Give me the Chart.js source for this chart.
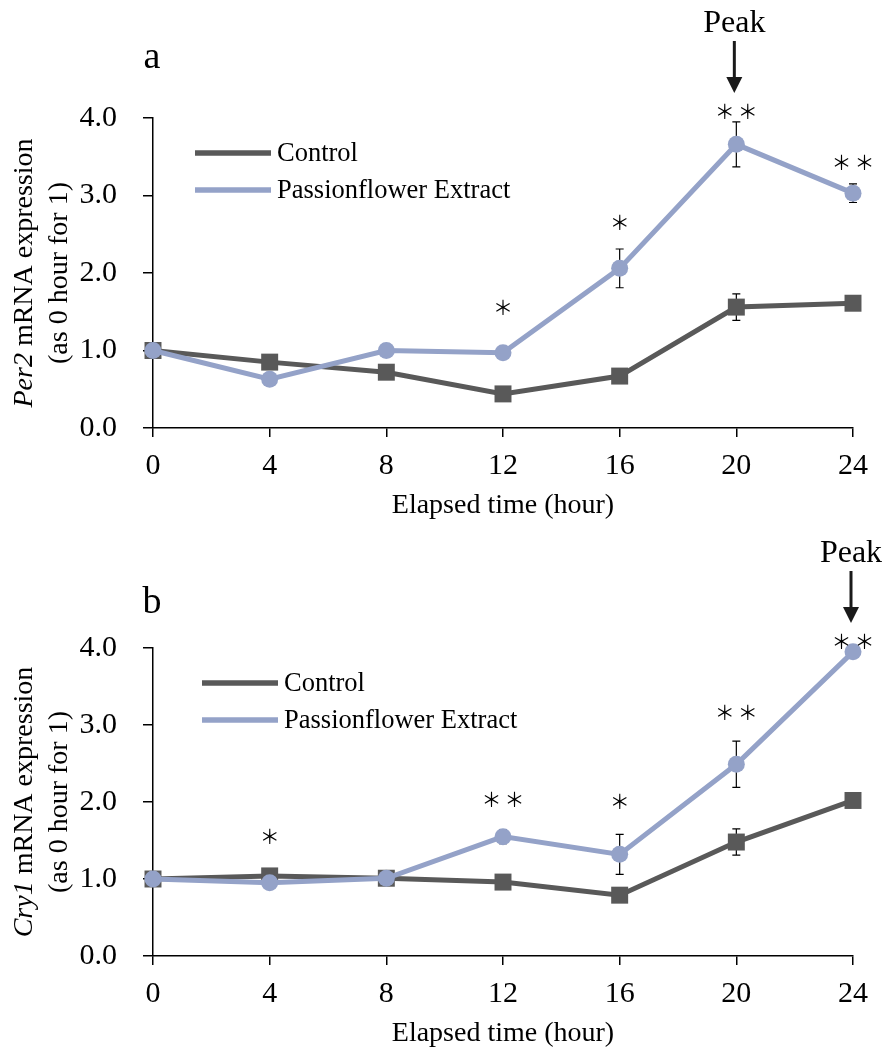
<!DOCTYPE html>
<html>
<head>
<meta charset="utf-8">
<script src="https://cdn.jsdelivr.net/npm/chart.js@4.4.1/dist/chart.umd.min.js"></script>
<style>
body { margin: 0; background: #fff; }
canvas { display: block; }
</style>
</head>
<body>
<canvas id="chartA" width="887" height="526"></canvas>
<canvas id="chartB" width="887" height="526"></canvas>
<script>
var hours = [0, 4, 8, 12, 16, 20, 24];

// panel a - Per2
var per2Control = [1.00, 0.85, 0.72, 0.44, 0.67, 1.56, 1.61];
var per2ControlErr = [0, 0.04, 0.05, 0.04, 0.05, 0.17, 0.04];
var per2Extract = [1.00, 0.63, 1.00, 0.97, 2.06, 3.66, 3.03];
var per2ExtractErr = [0, 0.04, 0.08, 0.08, 0.25, 0.29, 0.12];
var per2Sig = ['', '', '', '*', '*', '**', '**'];
var per2SigAt = [null, null, null, 1.56, 2.65, 4.08, 3.43];

// panel b - Cry1
var cry1Control = [1.00, 1.04, 1.01, 0.96, 0.79, 1.48, 2.02];
var cry1ControlErr = [0, 0.05, 0.04, 0.05, 0.04, 0.17, 0.04];
var cry1Extract = [1.00, 0.95, 1.01, 1.55, 1.32, 2.49, 3.95];
var cry1ExtractErr = [0, 0.05, 0.04, 0.09, 0.26, 0.30, 0.07];
var cry1Sig = ['', '*', '', '**', '*', '**', '**'];
var cry1SigAt = [null, 1.55, null, 2.03, 2.01, 3.16, 4.08];

var seriesNames = ['Control', 'Passionflower Extract'];
var controlColor = '#595959';
var extractColor = '#94a2c8';
var serif = "'Liberation Serif', 'Times New Roman', serif";

function pts(vals) {
  return hours.map(function (h, i) { return { x: h, y: vals[i] }; });
}

function makeChart(id, cfg) {
  var canvas = document.getElementById(id);
  var H = canvas.height;

  var extras = {
    id: 'extras' + id,
    beforeDatasetsDraw: function (chart) {
      var ctx = chart.ctx, xs = chart.scales.x, ys = chart.scales.y;
      ctx.save();
      ctx.strokeStyle = '#000';
      ctx.lineWidth = 1.2;
      [[cfg.control, cfg.controlErr], [cfg.extract, cfg.extractErr]].forEach(function (s) {
        s[0].forEach(function (v, i) {
          var e = s[1][i];
          if (!e) return;
          var px = xs.getPixelForValue(hours[i]);
          var y1 = ys.getPixelForValue(v + e), y2 = ys.getPixelForValue(v - e);
          ctx.beginPath();
          ctx.moveTo(px, y1); ctx.lineTo(px, y2);
          ctx.moveTo(px - 4, y1); ctx.lineTo(px + 4, y1);
          ctx.moveTo(px - 4, y2); ctx.lineTo(px + 4, y2);
          ctx.stroke();
        });
      });
      ctx.restore();
    },
    afterDraw: function (chart) {
      var ctx = chart.ctx, xs = chart.scales.x, ys = chart.scales.y;
      var area = chart.chartArea;
      ctx.save();

      // legend
      var lx = area.left + cfg.legendDx;
      [controlColor, extractColor].forEach(function (c, i) {
        var ly = area.top + 35 + i * 37;
        ctx.strokeStyle = c;
        ctx.lineWidth = 5.5;
        ctx.beginPath();
        ctx.moveTo(lx, ly); ctx.lineTo(lx + 76, ly);
        ctx.stroke();
        ctx.fillStyle = '#000';
        ctx.font = '26.5px ' + serif;
        ctx.textAlign = 'left';
        ctx.textBaseline = 'middle';
        ctx.fillText(seriesNames[i], lx + 82, ly + 1);
      });

      // significance marks, one glyph per star
      ctx.font = "20px 'Noto Sans CJK JP', sans-serif";
      ctx.textAlign = 'center';
      ctx.textBaseline = 'middle';
      cfg.sig.forEach(function (s, i) {
        if (!s) return;
        var cx = xs.getPixelForValue(hours[i]);
        var cy = ys.getPixelForValue(cfg.sigAt[i]);
        for (var k = 0; k < s.length; k++) {
          ctx.fillText('＊', cx + (k - (s.length - 1) / 2) * 23, cy);
        }
      });

      // peak arrow
      var px = xs.getPixelForValue(cfg.peakHour) - 2;
      ctx.font = '32px ' + serif;
      ctx.textBaseline = 'alphabetic';
      ctx.fillText('Peak', px, area.top - 86);
      ctx.strokeStyle = '#1a1a1a';
      ctx.fillStyle = '#1a1a1a';
      ctx.lineWidth = 3;
      ctx.beginPath();
      ctx.moveTo(px, area.top - 77); ctx.lineTo(px, area.top - 40);
      ctx.stroke();
      ctx.beginPath();
      ctx.moveTo(px - 8, area.top - 41);
      ctx.lineTo(px + 8, area.top - 41);
      ctx.lineTo(px, area.top - 25);
      ctx.closePath();
      ctx.fill();

      // panel letter
      ctx.fillStyle = '#000';
      ctx.font = '38px ' + serif;
      ctx.textAlign = 'center';
      ctx.fillText(cfg.letter, area.left - 1, area.top + cfg.letterDy);

      // x title
      ctx.font = '28px ' + serif;
      ctx.textBaseline = 'middle';
      ctx.fillText('Elapsed time (hour)', (area.left + area.right) / 2, area.bottom + 78);

      // y title (rotated, gene name in italics)
      var cy = (area.top + area.bottom) / 2;
      ctx.save();
      ctx.translate(25, cy);
      ctx.rotate(-Math.PI / 2);
      ctx.textAlign = 'left';
      ctx.font = 'italic 28px ' + serif;
      var wGene = ctx.measureText(cfg.gene).width;
      ctx.font = '28px ' + serif;
      var rest = ' mRNA expression';
      var wRest = ctx.measureText(rest).width;
      var sx = -(wGene + wRest) / 2;
      ctx.font = 'italic 28px ' + serif;
      ctx.fillText(cfg.gene, sx, 0);
      ctx.font = '28px ' + serif;
      ctx.fillText(rest, sx + wGene, 0);
      ctx.restore();
      ctx.save();
      ctx.translate(60, cy);
      ctx.rotate(-Math.PI / 2);
      ctx.textAlign = 'center';
      ctx.font = '28px ' + serif;
      ctx.fillText('(as 0 hour for 1)', 0, 0);
      ctx.restore();

      ctx.restore();
    }
  };

  return new Chart(canvas, {
    type: 'line',
    data: {
      datasets: [{
        label: seriesNames[1],
        data: pts(cfg.extract),
        borderColor: extractColor,
        backgroundColor: extractColor,
        borderWidth: 5,
        pointStyle: 'circle',
        pointRadius: 8.5,
        pointBorderWidth: 0,
        tension: 0,
        clip: false
      }, {
        label: seriesNames[0],
        data: pts(cfg.control),
        borderColor: controlColor,
        backgroundColor: controlColor,
        borderWidth: 5,
        pointStyle: 'rect',
        pointRadius: 12,
        pointBorderWidth: 0,
        tension: 0,
        clip: false
      }]
    },
    options: {
      responsive: false,
      animation: false,
      events: [],
      layout: { padding: { top: cfg.top, right: 34, left: 0, bottom: 0 } },
      plugins: { legend: { display: false }, tooltip: { enabled: false } },
      scales: {
        x: {
          type: 'linear',
          min: 0, max: 24,
          afterFit: function (s) { s.height = H - cfg.bottom; },
          ticks: {
            stepSize: 4, maxRotation: 0, autoSkip: false,
            color: '#000', padding: 11,
            font: { family: serif, size: 30 }
          },
          grid: { drawOnChartArea: false, color: '#000', lineWidth: 1.5, tickLength: 9 },
          border: { color: '#000', width: 1.5 }
        },
        y: {
          min: 0, max: 4,
          afterFit: function (s) { s.width = 153; },
          ticks: {
            stepSize: 1, color: '#000', padding: 26,
            font: { family: serif, size: 30 },
            callback: function (v) { return v.toFixed(1); }
          },
          grid: { drawOnChartArea: false, color: '#000', lineWidth: 1.5, tickLength: 10 },
          border: { color: '#000', width: 1.5 }
        }
      }
    },
    plugins: [extras]
  });
}

makeChart('chartA', {
  gene: 'Per2',
  control: per2Control, controlErr: per2ControlErr,
  extract: per2Extract, extractErr: per2ExtractErr,
  sig: per2Sig, sigAt: per2SigAt,
  peakHour: 20, letter: 'a', letterDy: -50,
  top: 118, bottom: 428, legendDx: 42
});

makeChart('chartB', {
  gene: 'Cry1',
  control: cry1Control, controlErr: cry1ControlErr,
  extract: cry1Extract, extractErr: cry1ExtractErr,
  sig: cry1Sig, sigAt: cry1SigAt,
  peakHour: 24, letter: 'b', letterDy: -35,
  top: 122, bottom: 430, legendDx: 49
});
</script>
</body>
</html>
